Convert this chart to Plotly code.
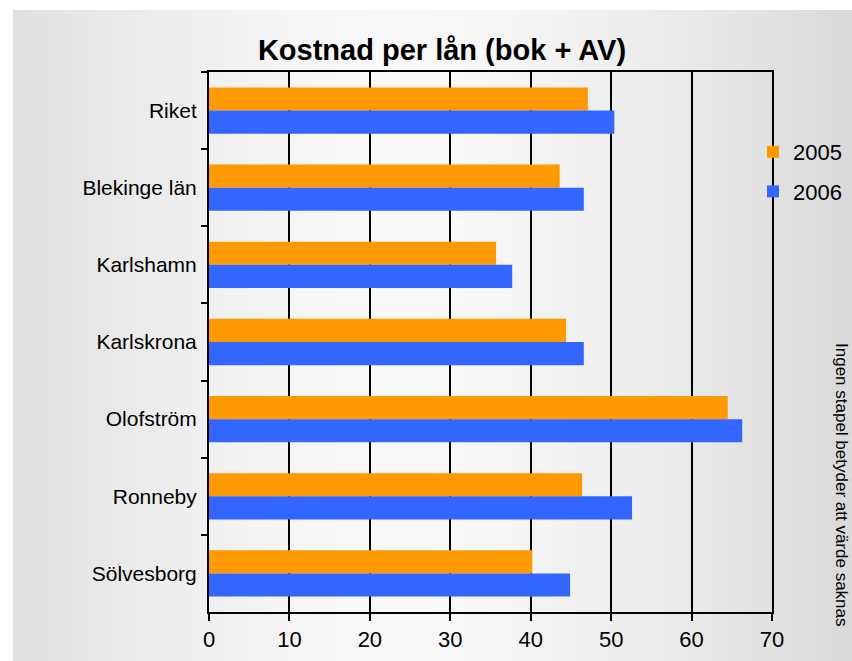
import plotly.graph_objects as go

# Data
kommuner = ["Riket", "Blekinge län", "Karlshamn", "Karlskrona",
            "Olofström", "Ronneby", "Sölvesborg"]
kostnad_2005 = [47.1, 43.6, 35.7, 44.4, 64.5, 46.4, 40.2]
kostnad_2006 = [50.4, 46.6, 37.7, 46.6, 66.3, 52.6, 44.9]

W, H = 852, 661
L, T = 209, 72
R, B = W - 772, H - 612
pw, ph = W - L - R, H - T - B


def px_x(p):
    # pixel -> paper coordinate
    return (p - L) / pw


def px_y(p):
    return (H - B - p) / ph


fig = go.Figure()

fig.add_trace(go.Bar(y=kommuner, x=kostnad_2005, orientation="h", name="2005",
                     marker=dict(color="#FF9900", line=dict(width=0)),
                     legendgroup="a"))
fig.add_trace(go.Bar(y=kommuner, x=kostnad_2006, orientation="h", name="2006",
                     marker=dict(color="#3366FF", line=dict(width=0)),
                     legendgroup="b"))

# grey background panel with soft horizontal gradient
shapes = []
step = 6
for p in range(13, W, step):
    d = abs(p + step / 2 - 400) / 420
    v = int(round(248 - 28 * min(d, 1.05) ** 1.6))
    c = f"rgb({v},{v},{v})"
    shapes.append(dict(type="rect", xref="paper", yref="paper",
                       x0=px_x(p), x1=px_x(p + step + 0.5),
                       y0=px_y(H), y1=px_y(10),
                       fillcolor=c, line=dict(width=0), layer="below"))

fig.update_layout(
    width=W, height=H,
    margin=dict(l=L, r=R, t=T, b=B, autoexpand=False),
    paper_bgcolor="white",
    plot_bgcolor="rgba(0,0,0,0)",
    font=dict(family="Liberation Sans, Arial, sans-serif", color="black"),
    barmode="group",
    bargap=0.4,
    bargroupgap=0,
    shapes=shapes,
    title=dict(text="<b>Kostnad per lån (bok + AV)</b>",
               font=dict(size=29, color="black"),
               x=442 / W, xanchor="center",
               y=1 - 50 / H, yanchor="middle"),
    legend=dict(x=px_x(753), y=px_y(131), xanchor="left", yanchor="top",
                font=dict(size=22), bgcolor="rgba(0,0,0,0)",
                traceorder="grouped", tracegroupgap=8),
    annotations=[dict(text="Ingen stapel betyder att värde saknas",
                      xref="paper", yref="paper",
                      x=px_x(842), y=px_y(485),
                      xanchor="center", yanchor="middle",
                      textangle=90, showarrow=False,
                      font=dict(size=17, color="black"))],
)

fig.update_xaxes(range=[0, 70], dtick=10, showgrid=True, gridcolor="black",
                 gridwidth=2, zeroline=False, showline=True, linecolor="black",
                 linewidth=2, mirror=True, ticks="outside", ticklen=7,
                 tickwidth=2, tickcolor="black", tickfont=dict(size=22))
fig.update_yaxes(autorange="reversed", showgrid=False, showline=True,
                 linecolor="black", linewidth=2, mirror=True,
                 ticks="outside", tickson="boundaries", ticklen=6,
                 tickwidth=2, tickcolor="black", tickfont=dict(size=21),
                 ticklabelstandoff=6)

# drop the default page margin so the figure sits at the window's corner
fig.write_html("out.html", config={"displayModeBar": False},
               post_script="document.body.style.margin='0';"
                           "document.body.style.overflow='hidden';")
